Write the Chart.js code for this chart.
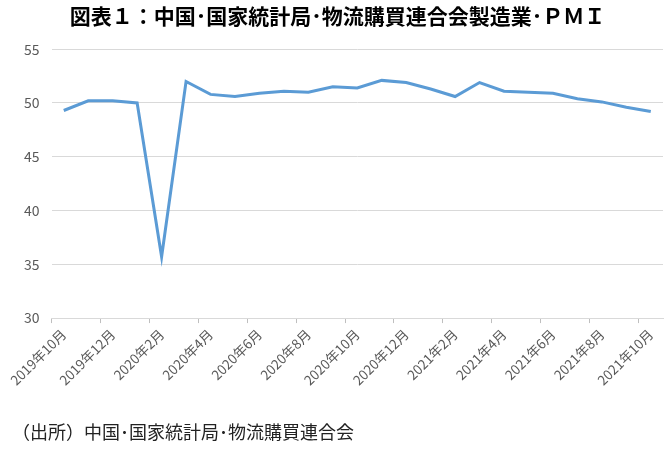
<!DOCTYPE html>
<html>
<head>
<meta charset="utf-8">
<script src="https://cdn.jsdelivr.net/npm/chart.js@4/dist/chart.umd.min.js"></script>
<style>
  html, body { margin: 0; padding: 0; background: #fff; }
  #wrap { position: relative; width: 669px; height: 449px; }
</style>
</head>
<body>
<div id="wrap"><canvas id="c" width="669" height="449"></canvas></div>
<script>
(function () {
  'use strict';

  var months = ['2019年10月', '2019年11月', '2019年12月', '2020年1月', '2020年2月', '2020年3月',
    '2020年4月', '2020年5月', '2020年6月', '2020年7月', '2020年8月', '2020年9月', '2020年10月',
    '2020年11月', '2020年12月', '2021年1月', '2021年2月', '2021年3月', '2021年4月', '2021年5月',
    '2021年6月', '2021年7月', '2021年8月', '2021年9月', '2021年10月'];
  var pmi = [49.3, 50.2, 50.2, 50.0, 35.7, 52.0, 50.8, 50.6, 50.9, 51.1, 51.0, 51.5, 51.4,
    52.1, 51.9, 51.3, 50.6, 51.9, 51.1, 51.0, 50.9, 50.4, 50.1, 49.6, 49.2];
  var yTicks = [30, 35, 40, 45, 50, 55];

  var titre = '図表１：中国･国家統計局･物流購買連合会製造業･ＰＭＩ';
  var source = '（出所）中国･国家統計局･物流購買連合会';
  var font = '"Noto Sans CJK JP", "Noto Sans", sans-serif';

  new Chart(document.getElementById('c'), {
    type: 'line',
    data: {
      labels: months,
      datasets: [{ data: pmi, borderColor: '#5b9bd5', borderWidth: 3, pointRadius: 0, tension: 0, fill: false }]
    },
    options: {
      responsive: false,
      animation: false,
      layout: { padding: { left: 12, right: 6, top: 0, bottom: 0 } },
      plugins: {
        legend: { display: false },
        tooltip: { enabled: false },
        title: {
          display: true, text: titre, color: '#000',
          font: { family: font, size: 21, weight: 'bold' },
          padding: { top: 3, bottom: 21 }
        },
        subtitle: {
          display: true, text: source, position: 'bottom', align: 'start', color: '#222',
          font: { family: font, size: 18 },
          padding: { top: 30, bottom: 6 }
        }
      },
      scales: {
        x: {
          offset: true,
          grid: {
            offset: true, drawOnChartArea: false, drawTicks: true, tickLength: 5,
            color: function (ctx) { return ctx.index % 2 === 0 ? '#bfbfbf' : 'rgba(0,0,0,0)'; }
          },
          border: { color: '#d9d9d9' },
          ticks: {
            autoSkip: false, maxRotation: 45, minRotation: 45, color: '#595959',
            font: { family: font, size: 13.5 },
            callback: function (v, i) { return i % 2 === 0 ? months[i] : ''; }
          }
        },
        y: {
          min: yTicks[0], max: yTicks[yTicks.length - 1],
          afterBuildTicks: function (s) { s.ticks = yTicks.map(function (v) { return { value: v }; }); },
          grid: { color: '#d9d9d9', drawTicks: false },
          border: { display: false },
          ticks: { color: '#595959', padding: 12, font: { family: font, size: 14 } }
        }
      }
    }
  });
})();
</script>
</body>
</html>
